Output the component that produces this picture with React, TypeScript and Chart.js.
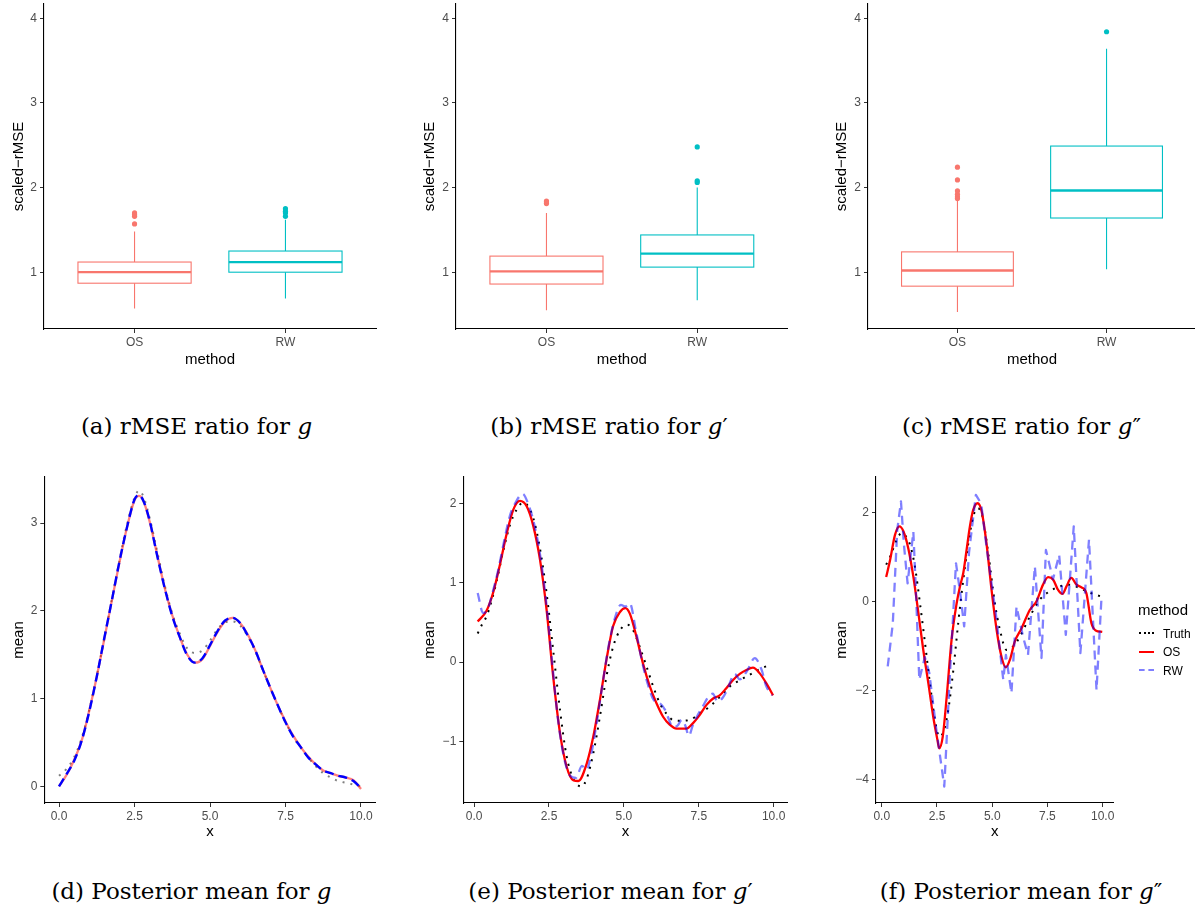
import React, { useEffect, useRef } from 'react';
import { Chart, registerables } from 'chart.js';
Chart.register(...registerables);

const SANS = '"Liberation Sans", Arial, Helvetica, sans-serif';
const SERIF = '"DejaVu Serif", serif';
const TICK_COLOR = '#4D4D4D';

// ---------------- top row: rMSE ratio boxplots ----------------
const boxCategories = ['OS', 'RW'];
const boxColors = ['#F8766D', '#00BFC4'];
const boxYTicks = [1, 2, 3, 4];
const boxYMin = 0.329;
const boxYMax = 4.168;

// (a) g
const aLow = [0.57, 0.69];
const aQ1 = [0.87, 1.0];
const aMed = [1.0, 1.12];
const aQ3 = [1.12, 1.25];
const aHigh = [1.48, 1.62];
const aOutOS = [1.57, 1.66, 1.68, 1.7];
const aOutRW = [1.66, 1.7, 1.72, 1.75];

// (b) g'
const bLow = [0.55, 0.67];
const bQ1 = [0.86, 1.06];
const bMed = [1.01, 1.22];
const bQ3 = [1.19, 1.44];
const bHigh = [1.7, 2.0];
const bOutOS = [1.81, 1.83, 1.84];
const bOutRW = [2.06, 2.08, 2.48];

// (c) g''
const cLow = [0.53, 1.035];
const cQ1 = [0.835, 1.64];
const cMed = [1.02, 1.965];
const cQ3 = [1.24, 2.49];
const cHigh = [1.85, 3.64];
const cOutOS = [1.87, 1.89, 1.92, 1.96, 2.09, 2.24];
const cOutRW = [3.84];

// ---------------- bottom row: posterior means ----------------
const xTicks = [0, 2.5, 5, 7.5, 10];
const xTickLabels = ['0.0', '2.5', '5.0', '7.5', '10.0'];

// (d) g
const dX = [0, 0.25, 0.5, 0.75, 1.0, 1.25, 1.5, 1.75, 2.0, 2.25, 2.5, 2.65, 2.8, 3.0, 3.25, 3.5, 3.75, 4.0, 4.25, 4.5, 4.75, 5.0, 5.25, 5.5, 5.75, 6.0, 6.25, 6.5, 6.75, 7.0, 7.25, 7.5, 7.75, 8.0, 8.25, 8.5, 8.75, 9.0, 9.25, 9.5, 9.75, 10.0];
const dTruth = [0.12, 0.2, 0.33, 0.55, 0.87, 1.26, 1.69, 2.13, 2.57, 2.98, 3.29, 3.37, 3.3, 3.06, 2.68, 2.29, 1.97, 1.74, 1.57, 1.52, 1.55, 1.66, 1.79, 1.87, 1.88, 1.83, 1.71, 1.54, 1.33, 1.12, 0.92, 0.73, 0.57, 0.44, 0.33, 0.23, 0.15, 0.1, 0.06, 0.04, 0.02, 0.0];
const dOS = [0.0, 0.13, 0.3, 0.52, 0.86, 1.25, 1.68, 2.12, 2.55, 2.95, 3.26, 3.31, 3.25, 3.02, 2.64, 2.26, 1.95, 1.7, 1.5, 1.41, 1.45, 1.6, 1.76, 1.88, 1.92, 1.86, 1.73, 1.55, 1.33, 1.12, 0.92, 0.74, 0.58, 0.45, 0.34, 0.25, 0.18, 0.15, 0.12, 0.1, 0.07, -0.03];
const dRW = [0.0, 0.14, 0.29, 0.52, 0.85, 1.25, 1.69, 2.12, 2.56, 2.95, 3.27, 3.32, 3.25, 3.03, 2.63, 2.26, 1.94, 1.7, 1.49, 1.41, 1.46, 1.61, 1.77, 1.89, 1.92, 1.86, 1.72, 1.55, 1.33, 1.12, 0.92, 0.73, 0.57, 0.45, 0.33, 0.25, 0.18, 0.15, 0.12, 0.1, 0.06, -0.02];

// (e) g'
const eTruthX = [0.12, 0.26, 0.42, 0.59, 0.76, 0.98, 1.2, 1.42, 1.64, 1.81, 1.98, 2.2, 2.42, 2.64, 2.87, 3.09, 3.31, 3.59, 3.76, 3.98, 4.2, 4.42, 4.64, 4.87, 5.12, 5.31, 5.53, 5.76, 5.98, 6.2, 6.42, 6.64, 6.92, 7.2, 7.53, 7.87, 8.2, 8.53, 8.87, 9.2, 9.53, 9.92];
const eTruthY = [0.36, 0.47, 0.58, 0.78, 1.03, 1.41, 1.73, 1.92, 2.01, 1.96, 1.81, 1.43, 0.87, 0.15, -0.61, -1.19, -1.47, -1.57, -1.47, -1.15, -0.69, -0.18, 0.19, 0.4, 0.47, 0.4, 0.19, -0.06, -0.31, -0.52, -0.65, -0.73, -0.74, -0.73, -0.65, -0.56, -0.44, -0.31, -0.23, -0.16, -0.09, -0.03];
const eOSX = [0.12, 0.42, 0.64, 0.87, 1.09, 1.31, 1.53, 1.76, 1.98, 2.2, 2.42, 2.64, 2.87, 3.09, 3.31, 3.48, 3.76, 3.98, 4.2, 4.42, 4.64, 4.87, 5.05, 5.2, 5.42, 5.64, 5.87, 6.09, 6.31, 6.53, 6.76, 7.09, 7.31, 7.53, 7.76, 7.98, 8.2, 8.42, 8.64, 8.87, 9.09, 9.31, 9.53, 9.76, 9.98];
const eOSY = [0.51, 0.65, 0.88, 1.24, 1.62, 1.92, 2.03, 1.96, 1.71, 1.29, 0.66, -0.18, -0.9, -1.32, -1.49, -1.5, -1.28, -0.94, -0.48, 0.03, 0.45, 0.63, 0.68, 0.61, 0.32, -0.02, -0.31, -0.52, -0.69, -0.79, -0.84, -0.84, -0.77, -0.67, -0.54, -0.46, -0.42, -0.33, -0.23, -0.15, -0.1, -0.07, -0.14, -0.27, -0.42];
const eRWX = [0.12, 0.3, 0.45, 0.6, 0.8, 1.0, 1.2, 1.4, 1.62, 1.8, 2.0, 2.2, 2.4, 2.6, 2.8, 3.0, 3.2, 3.4, 3.6, 3.75, 3.9, 4.1, 4.3, 4.5, 4.7, 4.9, 5.05, 5.2, 5.4, 5.6, 5.8, 6.0, 6.2, 6.37, 6.5, 6.63, 6.8, 6.93, 7.05, 7.17, 7.3, 7.45, 7.65, 7.8, 7.97, 8.13, 8.3, 8.45, 8.7, 8.87, 9.1, 9.37, 9.6, 9.75, 9.95];
const eRWY = [0.87, 0.62, 0.66, 0.85, 1.15, 1.52, 1.85, 2.02, 2.12, 2.0, 1.75, 1.36, 0.78, 0.02, -0.72, -1.2, -1.43, -1.46, -1.31, -1.36, -1.18, -0.75, -0.25, 0.22, 0.55, 0.72, 0.7, 0.74, 0.4, 0.02, -0.28, -0.48, -0.52, -0.6, -0.72, -0.82, -0.8, -0.73, -0.8, -0.93, -0.8, -0.68, -0.55, -0.45, -0.4, -0.5, -0.45, -0.35, -0.15, -0.22, -0.12, 0.05, -0.1, -0.3, -0.42];

// (f) g''
const fTruthX = [0.2, 0.38, 0.68, 0.9, 1.1, 1.28, 1.5, 1.73, 1.96, 2.18, 2.41, 2.6, 2.82, 3.01, 3.24, 3.46, 3.69, 3.92, 4.14, 4.34, 4.56, 4.82, 5.12, 5.35, 5.65, 5.95, 6.25, 6.7, 7.15, 7.6, 8.06, 8.5, 8.96, 9.41, 9.94];
const fTruthY = [0.83, 1.01, 1.39, 1.54, 1.46, 1.28, 0.79, -0.04, -0.94, -1.84, -2.66, -3.04, -2.89, -2.44, -1.54, -0.49, 0.49, 1.31, 1.91, 2.1, 1.91, 1.09, -0.04, -0.64, -1.09, -1.01, -0.79, -0.34, 0.04, 0.23, 0.34, 0.38, 0.3, 0.2, 0.11];
const fOSX = [0.2, 0.38, 0.6, 0.8, 0.98, 1.2, 1.43, 1.66, 1.88, 2.11, 2.33, 2.52, 2.6, 2.76, 2.94, 3.16, 3.39, 3.54, 3.69, 3.84, 3.99, 4.14, 4.34, 4.52, 4.74, 4.97, 5.2, 5.42, 5.62, 5.8, 6.02, 6.33, 6.7, 7.0, 7.3, 7.53, 7.76, 7.98, 8.18, 8.36, 8.58, 8.81, 9.04, 9.26, 9.49, 9.68, 9.98];
const fOSY = [0.55, 0.94, 1.5, 1.69, 1.58, 1.2, 0.56, -0.26, -1.09, -1.84, -2.59, -3.11, -3.3, -3.04, -2.14, -0.86, -0.04, 0.34, 0.64, 1.16, 1.69, 2.06, 2.21, 2.03, 1.31, 0.26, -0.64, -1.24, -1.48, -1.31, -0.9, -0.6, -0.19, 0.0, 0.38, 0.55, 0.49, 0.26, 0.17, 0.34, 0.53, 0.38, 0.32, 0.19, -0.49, -0.65, -0.68];
const fRWX = [0.27, 0.5, 0.7, 0.87, 1.0, 1.17, 1.43, 1.55, 1.7, 1.95, 2.15, 2.45, 2.83, 3.1, 3.36, 3.55, 3.73, 3.95, 4.26, 4.5, 4.75, 5.0, 5.17, 5.5, 5.62, 5.87, 6.1, 6.4, 6.62, 6.93, 7.23, 7.43, 7.75, 8.03, 8.33, 8.69, 8.99, 9.38, 9.72, 9.94];
const fRWY = [-1.46, -0.5, 1.6, 2.25, 1.3, 0.41, 1.57, 0.2, -1.76, -1.25, -1.6, -2.8, -4.16, -1.5, 0.86, 0.2, -0.56, 1.1, 2.4, 2.2, 1.2, 0.3, -0.3, -1.76, -1.2, -2.06, -0.11, -0.8, -1.2, 0.79, -1.27, 1.16, 0.5, 1.05, -0.75, 1.69, -1.16, 1.39, -1.99, 0.04];

const legendLabels = ['Truth', 'OS', 'RW'];

// ---------------- helpers ----------------
const tickFont = { family: SANS, size: 12 };
const titleFont = { family: SANS, size: 15 };
const gridOpts = { display: true, drawOnChartArea: false, drawTicks: true, tickLength: 4, color: '#333333', lineWidth: 1 };
const borderOpts = { display: true, color: '#000000', width: 1.1 };

function minusLabel(v: number): string {
  return v < 0 ? '\u2212' + String(Math.abs(v)) : String(v);
}

function fitY(width: number) {
  return (s: any) => { s.width = width; s.paddingTop = 0; s.paddingBottom = 0; };
}
function fitX(height: number) {
  return (s: any) => { s.height = height; s.paddingLeft = 0; s.paddingRight = 0; };
}

function boxPlugin(low: number[], q1: number[], med: number[], q3: number[], high: number[]) {
  return {
    id: 'boxes',
    beforeDatasetsDraw(chart: any) {
      const { ctx, scales } = chart;
      const x = scales.x;
      const y = scales.y;
      ctx.save();
      for (let i = 0; i < boxCategories.length; i++) {
        const c = i + 1;
        const xl = x.getPixelForValue(c - 0.375);
        const xr = x.getPixelForValue(c + 0.375);
        const xc = x.getPixelForValue(c);
        const yq1 = y.getPixelForValue(q1[i]);
        const yq3 = y.getPixelForValue(q3[i]);
        const ym = y.getPixelForValue(med[i]);
        ctx.strokeStyle = boxColors[i];
        ctx.lineWidth = 1.1;
        ctx.beginPath();
        ctx.moveTo(xc, yq3);
        ctx.lineTo(xc, y.getPixelForValue(high[i]));
        ctx.moveTo(xc, yq1);
        ctx.lineTo(xc, y.getPixelForValue(low[i]));
        ctx.stroke();
        ctx.strokeRect(xl, yq3, xr - xl, yq1 - yq3);
        ctx.lineWidth = 2.3;
        ctx.beginPath();
        ctx.moveTo(xl, ym);
        ctx.lineTo(xr, ym);
        ctx.stroke();
      }
      ctx.restore();
    },
  };
}

function boxConfig(p: any) {
  return {
    type: 'scatter',
    data: {
      datasets: [
        { data: p.outOS.map((v: number) => ({ x: 1, y: v })), backgroundColor: boxColors[0], borderColor: boxColors[0], pointRadius: 2.6, borderWidth: 0 },
        { data: p.outRW.map((v: number) => ({ x: 2, y: v })), backgroundColor: boxColors[1], borderColor: boxColors[1], pointRadius: 2.6, borderWidth: 0 },
      ],
    },
    options: {
      animation: false,
      responsive: false,
      layout: { padding: { top: 3, right: p.padRight, left: 0, bottom: 0 } },
      plugins: { legend: { display: false }, tooltip: { enabled: false } },
      scales: {
        x: {
          type: 'linear', min: 0.4, max: 2.6,
          afterFit: fitX(45),
          afterBuildTicks: (s: any) => { s.ticks = boxCategories.map((_, i) => ({ value: i + 1 })); },
          ticks: { callback: (v: number) => boxCategories[Math.round(v) - 1], color: TICK_COLOR, font: tickFont, padding: 2, maxRotation: 0, autoSkip: false },
          grid: gridOpts, border: borderOpts,
          title: { display: true, text: 'method', color: '#000', font: titleFont, padding: { top: 0, bottom: 5.5 } },
        },
        y: {
          type: 'linear', min: boxYMin, max: boxYMax,
          afterFit: fitY(p.yW),
          afterBuildTicks: (s: any) => { s.ticks = boxYTicks.map((v) => ({ value: v })); },
          ticks: { callback: (v: number) => String(v), color: TICK_COLOR, font: tickFont, padding: 3, autoSkip: false },
          grid: gridOpts, border: borderOpts,
          title: { display: true, text: 'scaled\u2212rMSE', color: '#000', font: titleFont, padding: { top: p.yTitlePad, bottom: 0 } },
        },
      },
    },
    plugins: [boxPlugin(p.low, p.q1, p.med, p.q3, p.high)],
  };
}

function lineConfig(p: any) {
  return {
    type: 'line',
    data: {
      datasets: p.series.map((s: any) => ({
        label: s.label,
        data: s.xs.map((x: number, i: number) => ({ x, y: s.ys[i] })),
        borderColor: s.color,
        borderWidth: s.width,
        borderDash: s.dash,
        borderCapStyle: 'butt',
        borderJoinStyle: 'round',
        pointRadius: 0,
        fill: false,
        tension: 0,
        cubicInterpolationMode: s.smooth ? 'monotone' : 'default',
        order: s.order,
      })),
    },
    options: {
      animation: false,
      responsive: false,
      layout: { padding: { top: 7, right: p.padRight, left: 0, bottom: 0 } },
      plugins: { legend: { display: false }, tooltip: { enabled: false } },
      scales: {
        x: {
          type: 'linear', min: p.xMin, max: p.xMax,
          afterFit: fitX(42),
          afterBuildTicks: (s: any) => { s.ticks = xTicks.map((v) => ({ value: v })); },
          ticks: { callback: (v: number) => xTickLabels[xTicks.indexOf(v)], color: TICK_COLOR, font: tickFont, padding: 2, maxRotation: 0, autoSkip: false },
          grid: gridOpts, border: borderOpts,
          title: { display: true, text: 'x', color: '#000', font: titleFont, padding: { top: 0, bottom: 4.3 } },
        },
        y: {
          type: 'linear', min: p.yMin, max: p.yMax,
          afterFit: fitY(p.yW),
          afterBuildTicks: (s: any) => { s.ticks = p.yTicks.map((v: number) => ({ value: v })); },
          ticks: { callback: (v: number) => minusLabel(v), color: TICK_COLOR, font: tickFont, padding: 3, autoSkip: false },
          grid: gridOpts, border: borderOpts,
          title: { display: true, text: 'mean', color: '#000', font: titleFont, padding: { top: p.yTitlePad, bottom: 0 } },
        },
      },
    },
  };
}

function Panel({ left, top, width, height, config }: any) {
  const ref = useRef<HTMLCanvasElement>(null);
  useEffect(() => {
    const chart = new Chart(ref.current as HTMLCanvasElement, config());
    return () => chart.destroy();
  }, []);
  return (
    <canvas ref={ref} width={width} height={height}
      style={{ position: 'absolute', left, top, width, height, display: 'block' }} />
  );
}

function Caption({ cx, cy, children }: any) {
  return (
    <div style={{ position: 'absolute', left: cx - 200, top: cy - 15, width: 400, height: 30, lineHeight: '30px', textAlign: 'center', fontFamily: SERIF, fontSize: 23, color: '#000', whiteSpace: 'nowrap' }}>
      {children}
    </div>
  );
}

const truthStyle = (alpha: number) => ({ color: `rgba(0,0,0,${alpha})`, width: 2, dash: [2, 6], smooth: true, order: 2 });

export default function App() {
  return (
    <div style={{ position: 'absolute', left: 0, top: 0, width: 1195, height: 917, overflow: 'hidden', background: '#ffffff' }}>
      <Panel left={0} top={0} width={390} height={374}
        config={() => boxConfig({ low: aLow, q1: aQ1, med: aMed, q3: aQ3, high: aHigh, outOS: aOutOS, outRW: aOutRW, yW: 44, yTitlePad: 9.7, padRight: 14 })} />
      <Panel left={400} top={0} width={395} height={374}
        config={() => boxConfig({ low: bLow, q1: bQ1, med: bMed, q3: bQ3, high: bHigh, outOS: bOutOS, outRW: bOutRW, yW: 56, yTitlePad: 21, padRight: 7.3 })} />
      <Panel left={800} top={0} width={400} height={374}
        config={() => boxConfig({ low: cLow, q1: cQ1, med: cMed, q3: cQ3, high: cHigh, outOS: cOutOS, outRW: cOutRW, yW: 68, yTitlePad: 32.7, padRight: 0 })} />

      <Panel left={0} top={470} width={390} height={375}
        config={() => lineConfig({
          xMin: -0.487, xMax: 10.487, yMin: -0.19, yMax: 3.526, yTicks: [0, 1, 2, 3], yW: 44.3, yTitlePad: 9.5, padRight: 14.3,
          series: [
            { label: legendLabels[0], xs: dX, ys: dTruth, ...truthStyle(0.5) },
            { label: legendLabels[1], xs: dX, ys: dOS, color: 'rgba(255,0,0,0.5)', width: 2.3, dash: [], smooth: true, order: 1 },
            { label: legendLabels[2], xs: dX, ys: dRW, color: '#0000FF', width: 2.4, dash: [9, 5], smooth: true, order: 0 },
          ],
        })} />
      <Panel left={400} top={470} width={395} height={375}
        config={() => lineConfig({
          xMin: -0.36, xMax: 10.47, yMin: -1.777, yMax: 2.332, yTicks: [-1, 0, 1, 2], yW: 63.3, yTitlePad: 21, padRight: 7.3,
          series: [
            { label: legendLabels[0], xs: eTruthX, ys: eTruthY, ...truthStyle(1) },
            { label: legendLabels[1], xs: eOSX, ys: eOSY, color: '#FF0000', width: 2.3, dash: [], smooth: true, order: 1 },
            { label: legendLabels[2], xs: eRWX, ys: eRWY, color: 'rgba(0,0,255,0.5)', width: 2.3, dash: [9, 6], smooth: true, order: 0 },
          ],
        })} />
      <Panel left={800} top={470} width={395} height={375}
        config={() => lineConfig({
          xMin: -0.26, xMax: 10.48, yMin: -4.53, yMax: 2.8, yTicks: [-4, -2, 0, 2], yW: 76, yTitlePad: 32.7, padRight: 81.7,
          series: [
            { label: legendLabels[0], xs: fTruthX, ys: fTruthY, ...truthStyle(1) },
            { label: legendLabels[1], xs: fOSX, ys: fOSY, color: '#FF0000', width: 2.3, dash: [], smooth: true, order: 1 },
            { label: legendLabels[2], xs: fRWX, ys: fRWY, color: 'rgba(0,0,255,0.5)', width: 2.3, dash: [9, 6], smooth: false, order: 0 },
          ],
        })} />

      {/* legend for (f) */}
      <div style={{ position: 'absolute', left: 1138, top: 601, lineHeight: '18px', fontFamily: SANS, fontSize: 15, color: '#000' }}>method</div>
      <div style={{ position: 'absolute', left: 1139, top: 632, width: 15, height: 0, borderTop: '2px dotted #000' }} />
      <div style={{ position: 'absolute', left: 1139, top: 650.7, width: 15, height: 0, borderTop: '2px solid #FF0000' }} />
      <div style={{ position: 'absolute', left: 1139, top: 669, width: 15, height: 0, borderTop: '2px dashed rgba(0,0,255,0.5)' }} />
      <div style={{ position: 'absolute', left: 1163, top: 626.5, lineHeight: '14px', fontFamily: SANS, fontSize: 12, color: '#000' }}>{legendLabels[0]}</div>
      <div style={{ position: 'absolute', left: 1163, top: 644.7, lineHeight: '14px', fontFamily: SANS, fontSize: 12, color: '#000' }}>{legendLabels[1]}</div>
      <div style={{ position: 'absolute', left: 1163, top: 663.5, lineHeight: '14px', fontFamily: SANS, fontSize: 12, color: '#000' }}>{legendLabels[2]}</div>

      <Caption cx={196.5} cy={426}>(a) rMSE ratio for <i>g</i></Caption>
      <Caption cx={609} cy={426}>(b) rMSE ratio for <i>g</i>′</Caption>
      <Caption cx={1021.5} cy={426}>(c) rMSE ratio for <i>g</i>″</Caption>
      <Caption cx={191.5} cy={891}>(d) Posterior mean for <i>g</i></Caption>
      <Caption cx={610.5} cy={891}>(e) Posterior mean for <i>g</i>′</Caption>
      <Caption cx={1021} cy={891}>(f) Posterior mean for <i>g</i>″</Caption>
    </div>
  );
}
